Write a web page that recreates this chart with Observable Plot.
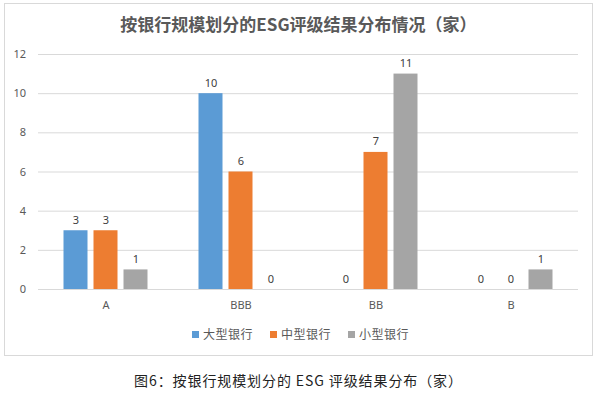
<!DOCTYPE html>
<html><head><meta charset="utf-8">
<script src="https://cdn.jsdelivr.net/npm/d3@7"></script>
<script src="https://cdn.jsdelivr.net/npm/@observablehq/plot@0.6"></script>
<style>
body{margin:0;background:#fff;font-family:"Noto Sans CJK SC","Noto Sans",sans-serif;}
#page{position:relative;width:597px;height:394px;overflow:hidden;}
#frame{position:absolute;left:4px;top:3px;width:589px;height:353px;box-sizing:border-box;border:1px solid #d9d9d9;}
#title{position:absolute;left:0;top:12px;width:597px;text-align:center;font-size:17px;font-weight:bold;color:#595959;line-height:24px;padding-left:0;}
#chart{position:absolute;left:0;top:40px;}
#legend{position:absolute;left:0;top:324px;width:597px;display:flex;justify-content:center;gap:17px;font-size:12px;letter-spacing:0.5px;color:#595959;line-height:20px;padding-left:4px;box-sizing:border-box;}
#legend span.sw{display:inline-block;width:7px;height:7px;margin-right:4px;vertical-align:1px;}
#caption{position:absolute;left:0;top:369px;width:597px;text-align:center;font-size:14px;color:#222;letter-spacing:0.9px;line-height:22px;}
</style></head>
<body>
<div id="page">
<div id="frame"></div>
<div id="title">按银行规模划分的ESG评级结果分布情况（家）</div>
<div id="chart"></div>
<div id="legend"></div>
<div id="caption">图6：按银行规模划分的 ESG 评级结果分布（家）</div>
</div>
<script>
const categories = ["A","BBB","BB","B"];
const seriesNames = ["大型银行","中型银行","小型银行"];
const large = [3,10,0,0];
const mid = [3,6,7,0];
const small = [1,0,11,1];
const yTicks = [0,2,4,6,8,10,12];
const colors = ["#5b9bd5","#ed7d31","#a5a5a5"];

const seriesValues = [large, mid, small];
const data = [];
categories.forEach((c,i)=>seriesNames.forEach((s,j)=>data.push({cat:c, series:s, value:seriesValues[j][i]})));

const chart = Plot.plot({
  width:597, height:285,
  marginLeft:37.5, marginRight:19.5, marginTop:14, marginBottom:36,
  style:{fontFamily:"'Noto Sans','Noto Sans CJK SC',sans-serif", fontSize:"11px", color:"#595959", background:"transparent"},
  fx:{domain:categories, padding:0, axis:"bottom", tickSize:0, tickPadding:12, label:null},
  x:{domain:seriesNames, paddingInner:0.2, paddingOuter:0.85, axis:null},
  y:{domain:[0,12], ticks:yTicks, tickSize:0, tickPadding:12.5, label:null},
  color:{domain:seriesNames, range:colors},
  marks:[
    Plot.ruleY(yTicks, {stroke:"#d9d9d9", strokeWidth:1}),
    Plot.barY(data, {fx:"cat", x:"series", y:"value", fill:"series"}),
    Plot.text(data, {fx:"cat", x:"series", y:"value", text:d=>String(d.value), lineAnchor:"bottom", dy:-7, fill:"#404040", fontSize:11})
  ]
});
document.getElementById("chart").appendChild(chart);

const lg = document.getElementById("legend");
seriesNames.forEach((s,i)=>{
  const item = document.createElement("div");
  item.innerHTML = `<span class="sw" style="background:${colors[i]}"></span>${s}`;
  lg.appendChild(item);
});
</script>
</body></html>
